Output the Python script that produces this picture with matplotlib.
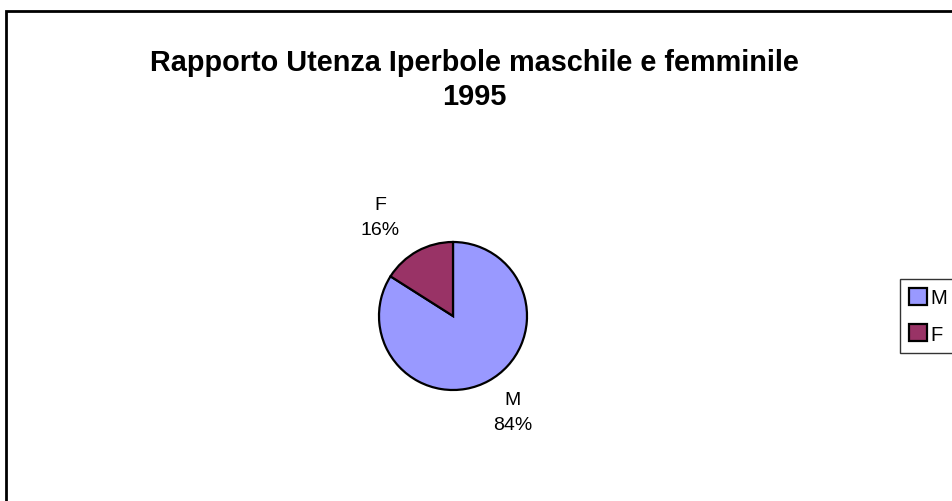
import matplotlib
matplotlib.use("Agg")
import matplotlib.pyplot as plt
from matplotlib.patches import Rectangle, Patch

plt.rcParams['font.family'] = ['Liberation Sans', 'DejaVu Sans']

categories = ["M", "F"]
values = [84, 16]
colors = ["#9999FF", "#993366"]
title = "Rapporto Utenza Iperbole maschile e femminile\n1995"

W, H = 952, 502
fig = plt.figure(figsize=(W / 100, H / 100), dpi=100)
ax = fig.add_axes([0, 0, 1, 1])
ax.set_axis_off()

cx, cy, r = 453, H - 317, 74
wedges, _ = ax.pie(values, colors=colors, startangle=90, counterclock=False,
                   center=(cx, cy), radius=r,
                   wedgeprops=dict(edgecolor="black", linewidth=1.6),
                   frame=False)
ax.set_xlim(0, W)
ax.set_ylim(0, H)
ax.set_aspect("equal")

# labels
label_pos = {"M": (513, 413), "F": (380, 218)}
for cat, v in zip(categories, values):
    x, y = label_pos[cat]
    ax.text(x, H - y, f"{cat}\n{v}%", ha="center", va="center",
            fontsize=14, linespacing=1.6)

# title
ax.text(474, H - 80, title, ha="center", va="center", fontsize=20.8,
        fontweight="bold", linespacing=1.3)

# outer border
ax.add_patch(Rectangle((6, -20), 1100, H - 12 + 20, fill=False,
                       edgecolor="black", linewidth=2, clip_on=False))

# legend
handles = [Patch(facecolor=c, edgecolor="black", linewidth=1.6) for c in colors]
leg = fig.legend(handles, categories, loc="upper left",
                 bbox_to_anchor=(900 / W, 1 - 280 / H),
                 fontsize=14.5, frameon=True, fancybox=False,
                 handlelength=0.9, handleheight=0.9, handletextpad=0.15,
                 borderpad=0.45, labelspacing=0.85, borderaxespad=0)
leg.get_frame().set_edgecolor("black")
leg.get_frame().set_linewidth(1.0)

fig.savefig("out.png", dpi=100)
